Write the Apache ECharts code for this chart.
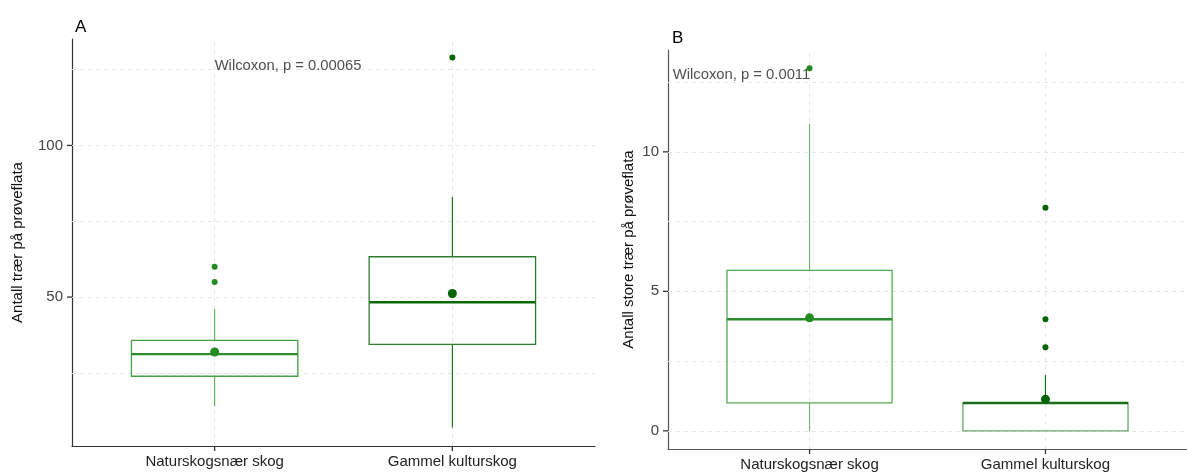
<!DOCTYPE html>
<html>
<head>
<meta charset="utf-8">
<script src="https://cdn.jsdelivr.net/npm/echarts@6/dist/echarts.min.js"></script>
<style>
  html, body { margin: 0; padding: 0; background: #fff; }
  #chart { width: 1187px; height: 473px; }
</style>
</head>
<body>
<div id="chart"></div>
<script>
// categories on the x axis (positions 1 and 2)
const categories = ['Naturskogsnær skog', 'Gammel kulturskog']

// panel A: antall trær  [lower whisker, Q1, median, Q3, upper whisker]
const boxA = [[14, 23.9, 31.2, 35.7, 46], [7, 34.4, 48.3, 63.3, 83]]
const meanA = [31.9, 51.2]
const outliersA = [[60, 55], [129]]
const ticksA = [50, 100]
const gridlinesA = [25, 50, 75, 100, 125]
const rangeA = [0.9, 135.1]
const pvalueA = 'Wilcoxon, p = 0.00065'

// panel B: antall store trær
const boxB = [[0, 1, 4, 5.75, 11], [0, 0, 1, 1, 2]]
const meanB = [4.05, 1.13]
const outliersB = [[13], [8, 4, 3]]
const ticksB = [0, 5, 10]
const gridlinesB = [0, 2.5, 5, 7.5, 10, 12.5]
const rangeB = [-0.65, 13.65]
const pvalueB = 'Wilcoxon, p = 0.0011'

const FONT = 'Liberation Sans, Arial, sans-serif'
const BOX_HALF = 0.35

// colours per panel, per group
const styleA = [
  { box: '#43a043', whisker: '#5aae5a', median: '#2a8c2a', point: '#228B22' },
  { box: '#2e7e2e', whisker: '#0b690b', median: '#0b6b0b', point: '#006400' }
]
const styleB = [
  { box: '#55a955', whisker: '#6db56d', median: '#2a8c2a', point: '#228B22' },
  { box: '#6aa36a', whisker: '#0b690b', median: '#1a6f1a', point: '#006400' }
]

function boxRenderer (styles) {
  return function (params, api) {
    const st = styles[params.dataIndex]
    const x = api.value(0)
    const lo = api.value(1)
    const q1 = api.value(2)
    const med = api.value(3)
    const q3 = api.value(4)
    const hi = api.value(5)
    const tl = api.coord([x - BOX_HALF, q3])
    const br = api.coord([x + BOX_HALF, q1])
    const m1 = api.coord([x - BOX_HALF, med])
    const m2 = api.coord([x + BOX_HALF, med])
    const top = api.coord([x, hi])
    const bot = api.coord([x, lo])
    return {
      type: 'group',
      children: [
        { type: 'line', shape: { x1: top[0], y1: top[1], x2: top[0], y2: tl[1] }, style: { stroke: st.whisker, lineWidth: 1.1 } },
        { type: 'line', shape: { x1: bot[0], y1: br[1], x2: bot[0], y2: bot[1] }, style: { stroke: st.whisker, lineWidth: 1.1 } },
        { type: 'rect', shape: { x: tl[0], y: tl[1], width: br[0] - tl[0], height: br[1] - tl[1] }, style: { fill: 'rgba(255,255,255,0)', stroke: st.box, lineWidth: 1.3 } },
        { type: 'line', shape: { x1: m1[0], y1: m1[1], x2: m2[0], y2: m2[1] }, style: { stroke: st.median, lineWidth: 2.4 } }
      ]
    }
  }
}

function gridMarkLine (yVals) {
  return {
    silent: true,
    symbol: ['none', 'none'],
    z: 1,
    label: { show: false },
    lineStyle: { color: '#e6e6e6', type: [4, 4], width: 1 },
    data: yVals.map(v => ({ yAxis: v })).concat([{ xAxis: 1 }, { xAxis: 2 }])
  }
}

// small tick marks next to the axes, drawn through the axis scales
function tickRenderer (axisDim) {
  return function (params, api) {
    const v = api.value(0)
    let p, shape
    if (axisDim === 'y') {
      p = api.coord([0.4, v])
      shape = { x1: p[0] - 5, y1: p[1], x2: p[0], y2: p[1] }
    } else {
      p = api.coord([v, api.value(1)])
      shape = { x1: p[0], y1: p[1], x2: p[0], y2: p[1] + 5 }
    }
    return { type: 'line', shape: shape, style: { stroke: '#333', lineWidth: 1.3 } }
  }
}

function panelSeries (idx, box, mean, outliers, styles, gridVals, ticks, yMin, label, labelPos) {
  const boxData = box.map((b, i) => [i + 1].concat(b))
  const meanData = mean.map((m, i) => ({ value: [i + 1, m], itemStyle: { color: styles[i].point } }))
  const outData = []
  outliers.forEach((arr, i) => {
    arr.forEach(v => outData.push({ value: [i + 1, v], itemStyle: { color: styles[i].point } }))
  })
  return [
    {
      type: 'custom',
      xAxisIndex: idx,
      yAxisIndex: idx,
      renderItem: boxRenderer(styles),
      data: boxData,
      z: 2,
      markLine: gridMarkLine(gridVals)
    },
    {
      type: 'custom',
      xAxisIndex: idx,
      yAxisIndex: idx,
      clip: false,
      silent: true,
      renderItem: tickRenderer('y'),
      data: ticks.map(t => [t]),
      z: 6
    },
    {
      type: 'custom',
      xAxisIndex: idx,
      yAxisIndex: idx,
      clip: false,
      silent: true,
      renderItem: tickRenderer('x'),
      data: categories.map((c, i) => [i + 1, yMin]),
      z: 6
    },
    {
      type: 'scatter',
      xAxisIndex: idx,
      yAxisIndex: idx,
      symbolSize: 6,
      itemStyle: { opacity: 1 },
      data: outData,
      z: 3
    },
    {
      type: 'scatter',
      xAxisIndex: idx,
      yAxisIndex: idx,
      symbolSize: 9,
      itemStyle: { opacity: 1 },
      data: meanData,
      z: 4
    },
    {
      type: 'scatter',
      xAxisIndex: idx,
      yAxisIndex: idx,
      symbolSize: 0,
      silent: true,
      z: 5,
      data: [labelPos],
      label: {
        show: true,
        position: 'right',
        distance: 0,
        formatter: label,
        color: '#222',
        fontSize: 14.8,
        fontFamily: FONT
      }
    }
  ]
}

function xAxisCfg (idx) {
  return {
    type: 'value',
    gridIndex: idx,
    min: 0.4,
    max: 2.6,
    axisLine: { show: true, onZero: false, lineStyle: { color: idx === 0 ? '#333' : '#555', width: 1.2 } },
    axisTick: { show: false },
    axisLabel: {
      customValues: [1, 2],
      formatter: v => categories[Math.round(v) - 1],
      color: '#222',
      fontSize: 15,
      fontFamily: FONT,
      margin: 8
    },
    splitLine: { show: false }
  }
}

function yAxisCfg (idx, range, ticks, name, gap) {
  return {
    type: 'value',
    gridIndex: idx,
    min: range[0],
    max: range[1],
    name: name,
    nameLocation: 'middle',
    nameGap: gap,
    nameTextStyle: { color: '#111', fontSize: 15, fontFamily: FONT },
    axisLine: { show: true, onZero: false, lineStyle: { color: idx === 0 ? '#333' : '#555', width: 1.2 } },
    axisTick: { show: false },
    axisLabel: {
      customValues: ticks,
      color: '#444',
      fontSize: 15,
      fontFamily: FONT,
      margin: 9
    },
    splitLine: { show: false }
  }
}

const chart = echarts.init(document.getElementById('chart'), null, { renderer: 'canvas' })
chart.setOption({
  animation: false,
  backgroundColor: '#fff',
  title: [
    { text: 'A', left: 70, top: 14, textStyle: { fontSize: 17, fontWeight: 'normal', color: '#000', fontFamily: FONT } },
    { text: 'B', left: 667, top: 25, textStyle: { fontSize: 17, fontWeight: 'normal', color: '#000', fontFamily: FONT } }
  ],
  grid: [
    { left: 72, top: 39, width: 523, height: 407 },
    { left: 668, top: 50, width: 522, height: 399 }
  ],
  xAxis: [xAxisCfg(0), xAxisCfg(1)],
  yAxis: [
    yAxisCfg(0, rangeA, ticksA, 'Antall trær på prøveflata', 47),
    yAxisCfg(1, rangeB, ticksB, 'Antall store trær på prøveflata', 32)
  ],
  series: [].concat(
    panelSeries(0, boxA, meanA, outliersA, styleA, gridlinesA, ticksA, rangeA[0], pvalueA, [1, 126.2]),
    panelSeries(1, boxB, meanB, outliersB, styleB, gridlinesB, ticksB, rangeB[0], pvalueB, [0.42, 12.76])
  )
})
</script>
</body>
</html>
